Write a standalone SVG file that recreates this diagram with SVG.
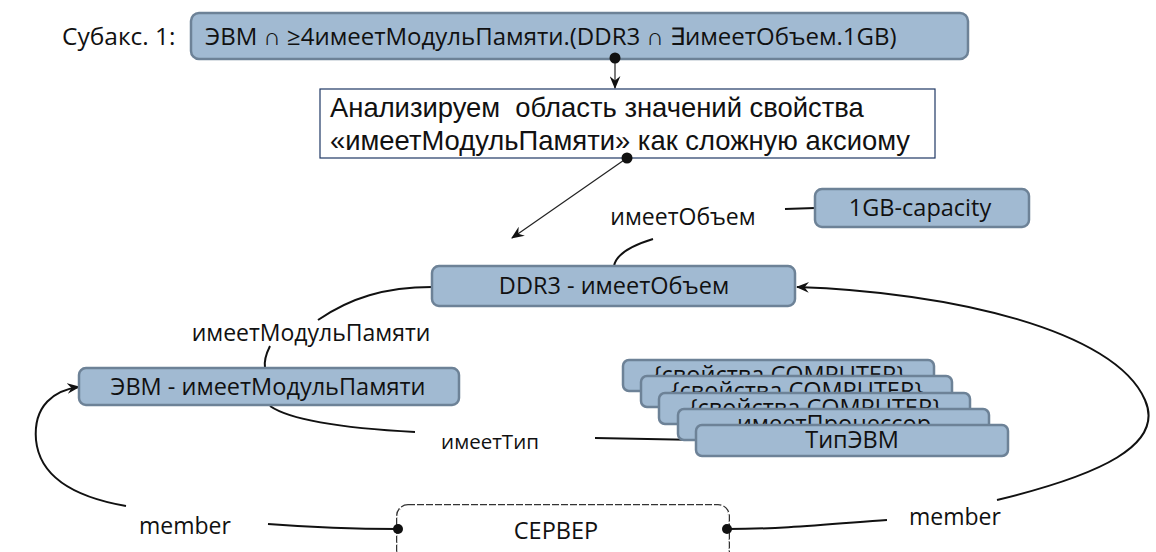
<svg xmlns="http://www.w3.org/2000/svg" width="1156" height="552" viewBox="0 0 1156 552">
<defs>
<style>
.node{fill:#a1bad2;stroke:#6d8297;stroke-width:2.5}
.t{font-family:"Open Sans","Liberation Sans",sans-serif;font-size:23.5px;fill:#111}
.c{text-anchor:middle}
.lbl{font-family:"Open Sans","Liberation Sans",sans-serif;font-size:23px;fill:#111}
.ar{font-family:"Liberation Sans",Arial,sans-serif;font-size:27.4px;fill:#111}
.edge{fill:none;stroke:#111;stroke-width:2}
.thin{fill:none;stroke:#222;stroke-width:1.2}
.dot{fill:#111}
</style>
<marker id="arr" viewBox="0 0 12 10" refX="11" refY="5" markerWidth="13" markerHeight="11" markerUnits="userSpaceOnUse" orient="auto">
<path d="M0,0 L12,5 L0,10 L4,5 Z" fill="#111"/>
</marker>
<clipPath id="c1"><rect x="600" y="350" width="400" height="26"/></clipPath>
<clipPath id="c2"><rect x="600" y="350" width="400" height="43"/></clipPath>
<clipPath id="c3"><rect x="600" y="350" width="400" height="59"/></clipPath>
<clipPath id="c4"><rect x="600" y="350" width="400" height="75"/></clipPath>
</defs>
<rect width="1156" height="552" fill="#fff"/>

<g id="connectors">
<path class="thin" d="M615,58 L615,88" marker-end="url(#arr)"/>
<path class="thin" d="M627,158 L512,238" marker-end="url(#arr)"/>
<path class="edge" d="M785,209 L815,208"/>
<path class="edge" d="M653,239 C630,246 616,255 614,266"/>
<path class="edge" d="M432,287 C385,287 350,298 318,320"/>
<path class="edge" d="M270,346 C266,354 264,362 265,368"/>
<path class="edge" d="M270,406 C290,420 340,428 415,432"/>
<path class="edge" d="M595,438 L700,440"/>
<path class="edge" d="M997,500 C1100,475 1165,445 1145,400 C1115,330 950,292 797,287" marker-end="url(#arr)"/>
<path class="edge" d="M126,506 C80,498 40,480 36,440 C33,405 55,390 79,387" marker-end="url(#arr)"/>
<path class="edge" d="M268,524 C320,528 360,529 398,529"/>
<path class="edge" d="M887,520 C820,525 780,529 727,529"/>
</g>

<g id="subaks-label"><text class="t" x="62" y="45" style="font-size:24.5px">Субакс. 1:</text></g>

<g id="n-axiom">
<rect class="node" x="191" y="13" width="777" height="46" rx="8"/>
<text class="t" x="205" y="45" style="font-size:24px">ЭВМ ∩ ≥4имеетМодульПамяти.(DDR3 ∩ ∃имеетОбъем.1GB)</text>
</g>
<circle class="dot" cx="615" cy="58" r="5.5"/>

<g id="n-analyze">
<rect x="320" y="89" width="615" height="69" fill="#fff" stroke="#1f3864" stroke-width="1.2"/>
<text class="ar" x="330" y="117" xml:space="preserve">Анализируем  область значений свойства</text>
<text class="ar" x="330" y="150">«имеетМодульПамяти» как сложную аксиому</text>
</g>
<circle class="dot" cx="627" cy="158" r="5.5"/>

<g id="l-obem"><text class="lbl c" x="683" y="225">имеетОбъем</text></g>

<g id="n-1gb">
<rect class="node" x="815" y="189" width="214" height="38" rx="7"/>
<text class="t c" x="920" y="216">1GB-capacity</text>
</g>

<g id="n-ddr3">
<rect class="node" x="432" y="266" width="363" height="40" rx="7"/>
<text class="t c" x="614" y="294">DDR3 - имеетОбъем</text>
</g>

<g id="l-modul"><text class="lbl c" x="311" y="341">имеетМодульПамяти</text></g>

<g id="n-evm">
<rect class="node" x="79" y="368" width="380" height="37" rx="7"/>
<text class="t c" x="268" y="395">ЭВМ - имеетМодульПамяти</text>
</g>

<g id="l-tip"><text class="lbl c" x="490" y="449" style="font-size:20.5px">имеетТип</text></g>

<g id="n-stack">
<rect class="node" x="623" y="360" width="311" height="31" rx="6"/>
<text class="t c" x="779" y="383" clip-path="url(#c1)">{свойства COMPUTER}</text>
<rect class="node" x="641" y="376" width="311" height="31" rx="6"/>
<text class="t c" x="797" y="399" clip-path="url(#c2)">{свойства COMPUTER}</text>
<rect class="node" x="659" y="393" width="311" height="31" rx="6"/>
<text class="t c" x="815" y="416" clip-path="url(#c3)">{свойства COMPUTER}</text>
<rect class="node" x="678" y="409" width="311" height="31" rx="6"/>
<text class="t c" x="834" y="432" clip-path="url(#c4)">имеетПроцессор</text>
<rect class="node" x="696" y="425" width="312" height="31" rx="6"/>
<text class="t c" x="852" y="448">ТипЭВМ</text>
</g>

<g id="l-member-left"><text class="lbl c" x="185" y="534">member</text></g>
<g id="l-member-right"><text class="lbl c" x="955" y="525">member</text></g>

<g id="n-server">
<rect x="398" y="506" width="330" height="60" rx="10" fill="#fff" stroke="#333" stroke-width="4" stroke-dasharray="7 2"/>
<rect x="398" y="506" width="330" height="60" rx="10" fill="#fff" stroke="#fff" stroke-width="1.5" stroke-dasharray="7 2"/>
<text class="t c" x="556" y="539">СЕРВЕР</text>
</g>
<circle class="dot" cx="398" cy="529" r="5"/>
<circle class="dot" cx="727" cy="529" r="5"/>
</svg>
